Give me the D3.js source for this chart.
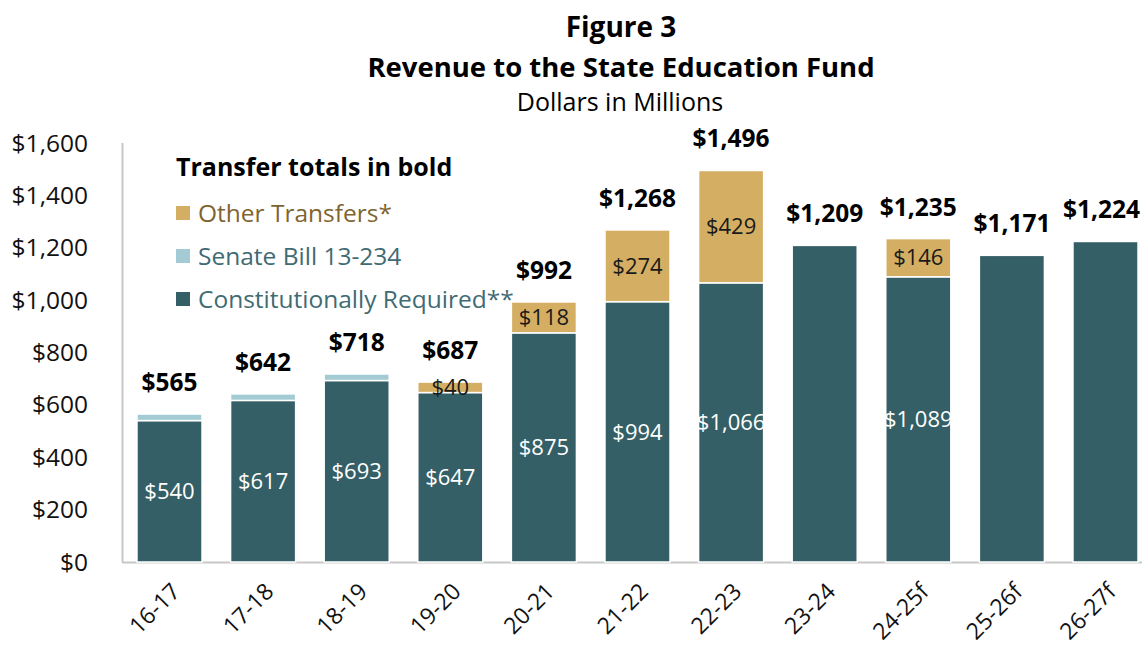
<!DOCTYPE html>
<html>
<head>
<meta charset="utf-8">
<script src="https://cdn.jsdelivr.net/npm/d3@7"></script>
<style>
  body { margin: 0; background: #fff; }
  text { font-family: "Open Sans", "Noto Sans", sans-serif; }
</style>
</head>
<body>
<div id="chart"></div>
<script>
let width = 1142, height = 652;

let years = ['16-17', '17-18', '18-19', '19-20', '20-21', '21-22', '22-23', '23-24', '24-25f', '25-26f', '26-27f'];
let constRequired = [540, 617, 693, 647, 875, 994, 1066, 1209, 1089, 1171, 1224];
let senateBill = [25, 25, 25, 0, 0, 0, 0, 0, 0, 0, 0];
let otherTransfers = [0, 0, 0, 40, 118, 274, 429, 0, 146, 0, 0];
let totals = [565, 642, 718, 687, 992, 1268, 1496, 1209, 1235, 1171, 1224];
// the dark bars with no stack on top carry no inner label
let showInner = [true, true, true, true, true, true, true, false, true, false, false];
let yTicks = [0, 200, 400, 600, 800, 1000, 1200, 1400, 1600];

let colors = { cr: '#355f66', sb: '#a3cbd3', other: '#d4ae62' };

let svg = d3.select('#chart')
    .append('svg')
    .attr('width', width)
    .attr('height', height);

let x = d3.scaleBand()
    .domain(years)
    .range([122, 1153])
    .paddingInner(0.305)
    .paddingOuter(0.16);

let y = d3.scaleLinear()
    .domain([0, 1600])
    .range([562, 143]);

// titles
svg.append('text')
    .attr('x', 621).attr('y', 37)
    .attr('text-anchor', 'middle')
    .style('font-size', '28px').style('font-weight', 'bold')
    .text('Figure 3');
svg.append('text')
    .attr('x', 621).attr('y', 77)
    .attr('text-anchor', 'middle')
    .style('font-size', '27.5px').style('font-weight', 'bold')
    .text('Revenue to the State Education Fund');
svg.append('text')
    .attr('x', 620).attr('y', 111)
    .attr('text-anchor', 'middle')
    .style('font-size', '25px')
    .text('Dollars in Millions');

// y axis labels
svg.selectAll('.ytick')
    .data(yTicks)
    .enter()
    .append('text')
    .attr('x', 88)
    .attr('y', d => y(d))
    .attr('dy', '0.35em')
    .attr('text-anchor', 'end')
    .style('font-size', '24.5px')
    .attr('fill', '#111')
    .text(d => '$' + d3.format(',')(d));

// axis lines
svg.append('line')
    .attr('x1', 122.5).attr('x2', 122.5)
    .attr('y1', y(1600)).attr('y2', y(0))
    .attr('stroke', '#c8c8c8').attr('stroke-width', 2);
svg.append('line')
    .attr('x1', 122).attr('x2', width)
    .attr('y1', y(0) + 0.5).attr('y2', y(0) + 0.5)
    .attr('stroke', '#c8c8c8').attr('stroke-width', 2);

// stacked bars
let stackData = years.map((d, i) => ({
    year: d, cr: constRequired[i], sb: senateBill[i], other: otherTransfers[i]
}));
let series = d3.stack().keys(['cr', 'sb', 'other'])(stackData);

series.forEach(s => {
    svg.selectAll('.bar-' + s.key)
        .data(s.filter(d => d[1] - d[0] > 0))
        .enter()
        .append('rect')
        .attr('x', d => x(d.data.year))
        .attr('y', d => y(d[1]))
        .attr('width', x.bandwidth())
        .attr('height', d => y(d[0]) - y(d[1]))
        .attr('fill', colors[s.key])
        .attr('stroke', '#fff')
        .attr('stroke-width', 1.5);
});

// labels inside constitutionally required segments
svg.selectAll('.crLabel')
    .data(stackData.filter((d, i) => showInner[i]))
    .enter()
    .append('text')
    .attr('x', d => x(d.year) + x.bandwidth() / 2)
    .attr('y', d => y(d.cr / 2))
    .attr('dy', '0.35em')
    .attr('text-anchor', 'middle')
    .attr('fill', '#fff')
    .style('font-size', '22px')
    .text(d => '$' + d3.format(',')(d.cr));

// labels inside other transfers segments
svg.selectAll('.otherLabel')
    .data(stackData.filter(d => d.other > 0))
    .enter()
    .append('text')
    .attr('x', d => x(d.year) + x.bandwidth() / 2)
    .attr('y', d => y(d.cr + d.sb + d.other / 2))
    .attr('dy', '0.35em')
    .attr('text-anchor', 'middle')
    .attr('fill', '#1a1a1a')
    .style('font-size', '22px')
    .text(d => '$' + d3.format(',')(d.other));

// totals
svg.selectAll('.total')
    .data(totals)
    .enter()
    .append('text')
    .attr('x', (d, i) => x(years[i]) + x.bandwidth() / 2)
    .attr('y', (d, i) => y(constRequired[i] + senateBill[i] + otherTransfers[i]) - 23)
    .attr('text-anchor', 'middle')
    .attr('fill', '#000')
    .style('font-size', '24.5px')
    .style('font-weight', 'bold')
    .text(d => '$' + d3.format(',')(d))
    .each(function() {
        // keep the last label inside the window
        let w = this.getComputedTextLength();
        let cx = +this.getAttribute('x');
        if (cx + w / 2 > width - 2) this.setAttribute('x', width - 2 - w / 2);
    });

// x labels
svg.selectAll('.xlabel')
    .data(years)
    .enter()
    .append('text')
    .attr('transform', d => 'translate(' + (x(d) + x.bandwidth() / 2 + 12) + ',' + 593 + ') rotate(-45)')
    .attr('text-anchor', 'end')
    .attr('fill', '#111')
    .style('font-size', '23px')
    .text(d => d);

// legend
svg.append('text')
    .attr('x', 176).attr('y', 176)
    .style('font-size', '25px').style('font-weight', 'bold')
    .text('Transfer totals in bold');

let legendItems = [
    { label: 'Other Transfers*', fill: colors.other, text: '#7f6430' },
    { label: 'Senate Bill 13-234', fill: colors.sb, text: '#3f6b73' },
    { label: 'Constitutionally Required**', fill: colors.cr, text: '#3f6b73' }
];
let legend = svg.selectAll('.legend')
    .data(legendItems)
    .enter()
    .append('g')
    .attr('transform', (d, i) => 'translate(176,' + (213 + i * 43) + ')');
legend.append('rect')
    .attr('x', 0).attr('y', -7)
    .attr('width', 14).attr('height', 14)
    .attr('fill', d => d.fill);
legend.append('text')
    .attr('x', 22).attr('y', 0)
    .attr('dy', '0.35em')
    .attr('fill', d => d.text)
    .style('font-size', '24.5px')
    .text(d => d.label);
</script>
</body>
</html>
